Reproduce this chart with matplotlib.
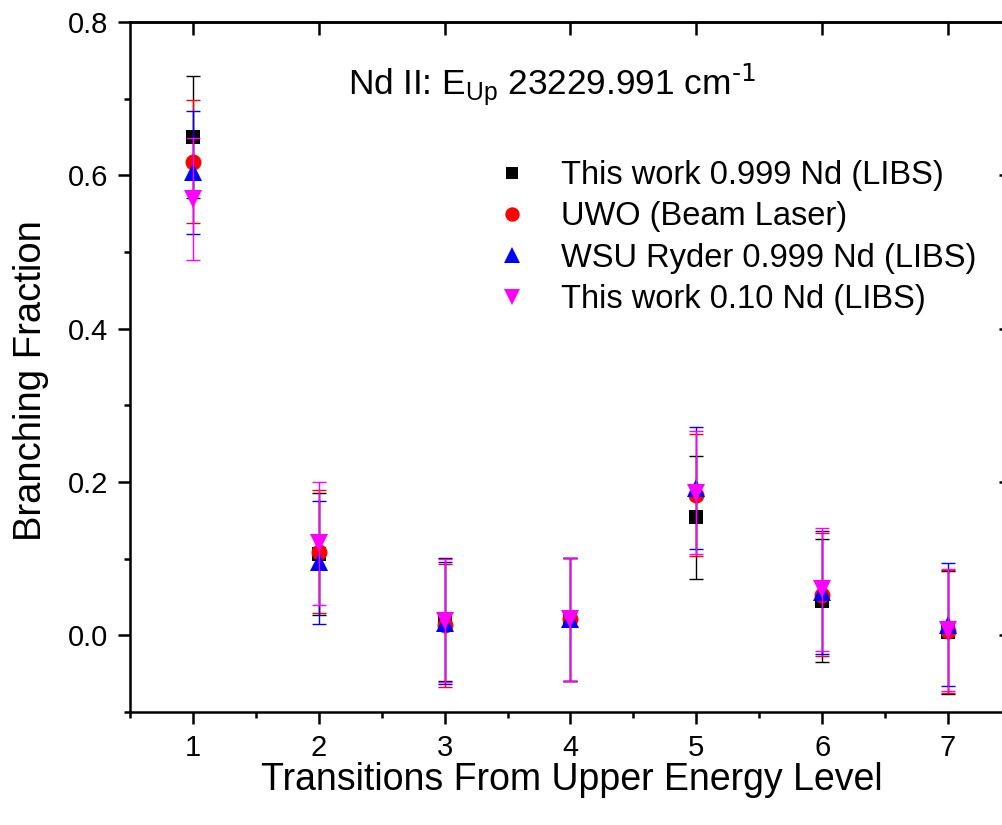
import matplotlib
matplotlib.use("Agg")
import matplotlib.pyplot as plt
from matplotlib.ticker import MultipleLocator, FixedLocator

plt.rcParams['font.family'] = ['Liberation Sans', 'DejaVu Sans']
plt.rcParams['mathtext.default'] = 'regular'

# ---- data ----
transitions = [1, 2, 3, 4, 5, 6, 7]
this_work_999 = [0.650, 0.106, 0.021, 0.021, 0.154, 0.045, 0.004]
uwo_beam = [0.618, 0.109, 0.013, 0.021, 0.183, 0.053, 0.005]
wsu_ryder = [0.604, 0.095, 0.016, 0.021, 0.192, 0.056, 0.014]
this_work_010 = [0.569, 0.120, 0.019, 0.021, 0.186, 0.060, 0.007]
err_999 = [0.08, 0.08, 0.08, 0.08, 0.08, 0.08, 0.08]
err_uwo = [0.08, 0.08, 0.08, 0.08, 0.08, 0.08, 0.08]
err_wsu = [0.08, 0.08, 0.08, 0.08, 0.08, 0.08, 0.08]
err_010 = [0.08, 0.08, 0.08, 0.08, 0.08, 0.08, 0.08]

labels = ["This work 0.999 Nd (LIBS)", "UWO (Beam Laser)",
          "WSU Ryder 0.999 Nd (LIBS)", "This work 0.10 Nd (LIBS)"]
series = [this_work_999, uwo_beam, wsu_ryder, this_work_010]
errors = [err_999, err_uwo, err_wsu, err_010]
colors = ['black', 'red', 'blue', 'magenta']
markers = ['s', 'o', '^', 'v']
msizes = [10, 11.5, 13, 13]

fig = plt.figure(figsize=(10.02, 8.25), dpi=100)
ax = fig.add_axes([130/1002, 1 - 712/825, 881/1002, 690/825])

handles = []
for y, e, c, m, ms, lab in zip(series, errors, colors, markers, msizes, labels):
    ax.errorbar(transitions, y, yerr=e, fmt='none', ecolor=c,
                elinewidth=1.0, capsize=5, capthick=1.0)
    ln, = ax.plot(transitions, y, linestyle='none', marker=m, ms=ms,
                  color=c, mec=c, mew=0, label=lab)
    handles.append(ln)

ax.set_xlim(0.5, 7.5)
ax.set_ylim(-0.1, 0.8)
ax.xaxis.set_major_locator(FixedLocator(transitions))
ax.xaxis.set_minor_locator(MultipleLocator(0.5))
ax.yaxis.set_minor_locator(MultipleLocator(0.1))
ax.set_yticks([0.0, 0.2, 0.4, 0.6, 0.8])
ax.set_yticklabels(["0.0", "0.2", "0.4", "0.6", "0.8"])

for s in ax.spines.values():
    s.set_linewidth(1.8)

ax.tick_params(which='major', direction='out', length=8.5, width=1.8,
               labelsize=21, pad=7)
ax.tick_params(which='minor', direction='out', length=4, width=1.8)

# top and right mirror axes with inward ticks
secx = ax.secondary_xaxis('top')
secx.set_xticks(transitions)
secx.tick_params(direction='in', length=9, width=1.8, labeltop=False)
secx.spines['top'].set_linewidth(1.8)
secy = ax.secondary_yaxis('right')
secy.set_yticks([0.0, 0.2, 0.4, 0.6, 0.8])
secy.tick_params(direction='in', length=9, width=1.8, labelright=False)
secy.spines['right'].set_linewidth(1.8)

ax.set_xlabel("Transitions From Upper Energy Level", fontsize=27)
ax.set_ylabel("Branching Fraction", fontsize=27.5)
ax.xaxis.set_label_coords(0.502, -0.072)
ax.yaxis.set_label_coords(-0.092, 0.481)

ax.text(0.247, 0.894, r"Nd II: E$_{Up}$ 23229.991 cm$^{\text{-1}}$",
        transform=ax.transAxes, fontsize=25.4, ha='left', va='baseline')

ax.legend(handles=handles, labels=labels, loc='upper left',
          bbox_to_anchor=(0.423, 0.80), frameon=False, fontsize=23.5,
          handlelength=0.6, handletextpad=1.2, labelspacing=0.32,
          borderpad=0, borderaxespad=0, numpoints=1, markerscale=0.9)

fig.savefig("out.png", dpi=100)
